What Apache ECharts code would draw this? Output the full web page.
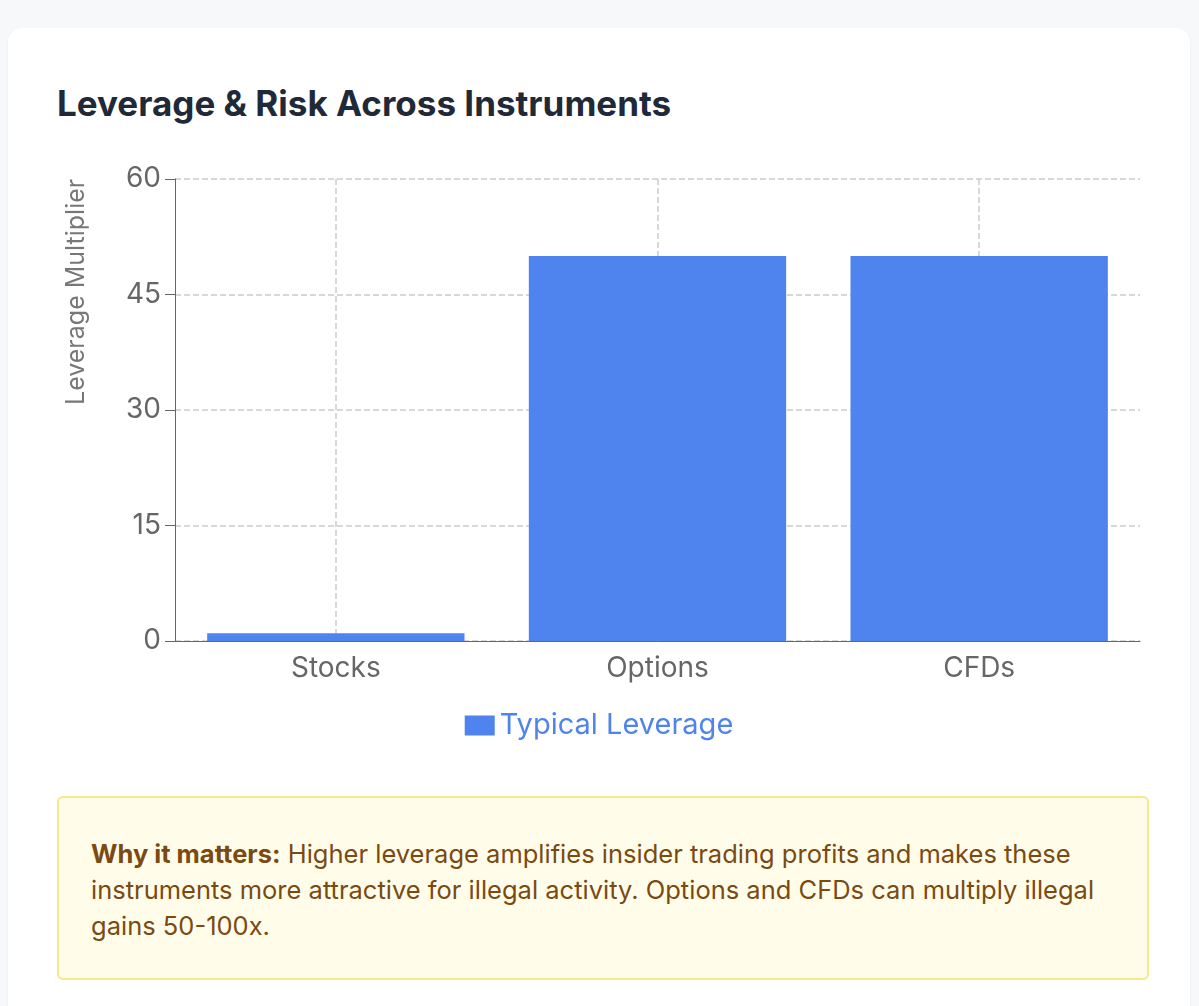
<!DOCTYPE html>
<html><head><meta charset="utf-8">
<script src="https://cdn.jsdelivr.net/npm/echarts@6/dist/echarts.min.js"></script>
<style>
body{margin:0;background:#f7f8fa;font-family:Inter,"Noto Sans",sans-serif;width:1199px;height:1006px;overflow:hidden}
.card{position:absolute;left:8px;top:28px;width:1182px;height:1000px;background:#fff;border-radius:14px;box-shadow:0 1px 3px rgba(0,0,0,.06)}
h2{position:absolute;left:49px;top:54px;margin:0;font-size:35px;font-weight:700;color:#1f2937}
#chart{position:absolute;left:0;top:137px;width:1182px;height:610px}
.note{position:absolute;left:49px;top:768px;width:1092px;height:184px;box-sizing:border-box;background:#fffde9;border:2px solid #f5e88e;border-radius:6px;padding:38px 32px;color:#7a4a12;font-size:25.5px;line-height:36px}
</style></head><body>
<div class="card">
<h2>Leverage &amp; Risk Across Instruments</h2>
<div id="chart"></div>
<div class="note"><b>Why it matters:</b> Higher leverage amplifies insider trading profits and makes these instruments more attractive for illegal activity. Options and CFDs can multiply illegal gains 50-100x.</div>
</div>
<script>
const categories = ['Stocks', 'Options', 'CFDs'];
const leverage = [1, 50, 50];
const seriesName = 'Typical Leverage';
const yAxisTitle = 'Leverage Multiplier';

const chart = echarts.init(document.getElementById('chart'));
chart.setOption({
  animation: false,
  textStyle: { fontFamily: 'Inter, "Noto Sans", sans-serif' },
  grid: { left: 167, right: 50, top: 8, bottom: 134 },
  legend: { data: [seriesName], bottom: 30, itemWidth: 30, itemHeight: 20, itemGap: 6,
    icon: 'rect', textStyle: { color: '#4f83ed', fontSize: 29 } },
  graphic: [{ type: 'text', x: 68, y: 240, rotation: Math.PI / 2,
    style: { text: yAxisTitle, fontSize: 25, fill: '#777', textAlign: 'left', textVerticalAlign: 'middle',
      fontFamily: 'Inter, "Noto Sans", sans-serif' } }],
  xAxis: [
    { type: 'category', data: categories,
      axisLine: { lineStyle: { color: '#666' } }, axisTick: { show: false },
      axisLabel: { color: '#666', fontSize: 28, margin: 14 }, splitLine: { show: false } },
    { type: 'category', data: ['', '', '', '', '', '', ''], boundaryGap: false, position: 'bottom',
      axisLine: { show: false }, axisTick: { show: false }, axisLabel: { show: false },
      splitLine: { show: true, interval: (i) => i % 2 === 1, lineStyle: { type: 'dashed', color: '#ccc', width: 1.5 } } }
  ],
  yAxis: {
    type: 'value', min: 0, max: 60, interval: 15,
    axisLine: { show: true, lineStyle: { color: '#666' } },
    axisTick: { show: true, length: 10, lineStyle: { color: '#666' } },
    axisLabel: { color: '#666', fontSize: 28, margin: 14 },
    splitLine: { lineStyle: { type: 'dashed', color: '#ccc', width: 1.5 } }
  },
  series: [{ name: seriesName, type: 'bar', data: leverage, barCategoryGap: '20%',
    itemStyle: { color: '#4f83ed' } }]
});
</script>
</body></html>
